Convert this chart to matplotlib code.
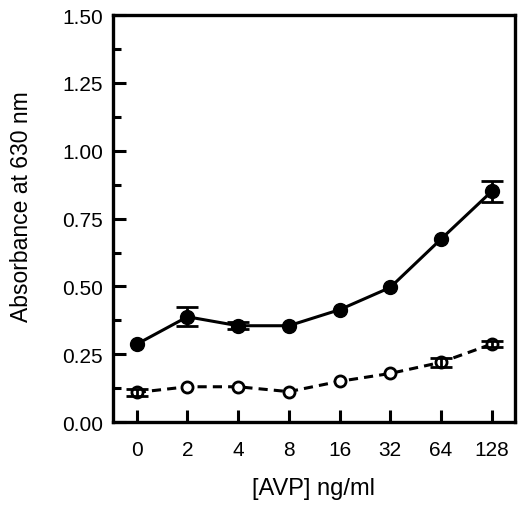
import numpy as np
import matplotlib
import matplotlib.pyplot as plt
from matplotlib.ticker import MultipleLocator, FormatStrFormatter

matplotlib.use('Agg')

# AVP dose (ng/ml), evenly spaced categories
doses = ['0', '2', '4', '8', '16', '32', '64', '128']

# absorbance at 630 nm (nan = no error bar drawn)
treated = [0.287, 0.388, 0.355, 0.355, 0.414, 0.496, 0.674, 0.850]
treated_err = [np.nan, 0.035, 0.012, np.nan, np.nan, np.nan, np.nan, 0.038]
control = [0.109, 0.130, 0.130, 0.112, 0.150, 0.179, 0.220, 0.287]
control_err = [0.012, np.nan, np.nan, np.nan, np.nan, np.nan, 0.016, 0.012]


def draw_series(ax, x, y, err, **style):
    y = np.asarray(y)
    err = np.asarray(err)
    ax.plot(x, y, color='black', zorder=3, **style)
    has_err = ~np.isnan(err)
    ax.errorbar(x[has_err], y[has_err], yerr=err[has_err], fmt='none',
                ecolor='black', elinewidth=2, capsize=8, capthick=2,
                zorder=4)


def main() -> None:
    plt.rcParams['font.family'] = ['Liberation Sans', 'DejaVu Sans']
    fig = plt.figure(figsize=(5.18, 5.06), dpi=100)
    ax = fig.add_axes([0.218, 0.164, 0.776, 0.804])

    x = np.arange(len(doses))

    draw_series(ax, x, treated, treated_err, lw=2.2, marker='o',
                markersize=10)
    draw_series(ax, x, control, control_err, lw=2.2,
                linestyle=(0, (3, 2)), marker='o', markersize=8,
                markerfacecolor='white', markeredgewidth=2)

    ax.set_xlim(-0.47, 7.46)
    ax.set_ylim(0, 1.5)
    ax.set_xticks(x)
    ax.set_xticklabels(doses)
    ax.yaxis.set_major_locator(MultipleLocator(0.25))
    ax.yaxis.set_minor_locator(MultipleLocator(0.125))
    ax.yaxis.set_major_formatter(FormatStrFormatter('%.2f'))

    for side in ax.spines.values():
        side.set_linewidth(2.4)
    ax.tick_params(which='major', direction='in', length=9, width=2.2,
                   labelsize=15, pad=7)
    ax.tick_params(which='minor', direction='in', length=6, width=2.2)
    ax.tick_params(axis='x', pad=13)

    ax.set_xlabel('[AVP] ng/ml', fontsize=17, labelpad=13)
    ax.set_ylabel('Absorbance at 630 nm', fontsize=16.5)
    ax.yaxis.set_label_coords(-0.2, 0.533)

    fig.savefig('out.png', dpi=100)


if __name__ == '__main__':
    main()
